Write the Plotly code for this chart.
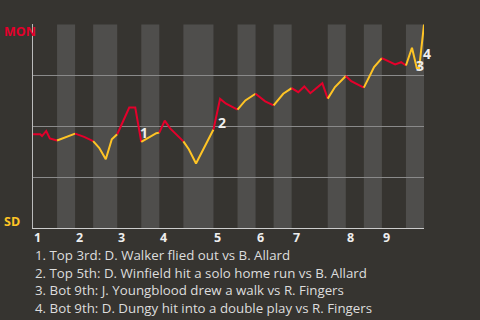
import plotly.graph_objects as go

# Game progress (plate-appearance units) and MON win probability
x_vals = [0, 1.2, 1.5, 2.2, 2.8, 4,
          5.7, 7,
          8.5, 10,
          11, 12.1, 13.1, 14,
          16, 17, 18,
          19.5, 20.5, 21,
          21.9, 22.8, 23.8, 25,
          25.9, 27.1, 30,
          31.1, 32.1, 34,
          35.3, 37,
          38.6, 40,
          41.6, 43,
          44.1, 45.1, 46.1, 48.1, 49,
          50.2, 52,
          52.9, 55,
          56.7, 58,
          60.2, 61.2, 62,
          63.0, 63.8, 64.2, 65]
win_prob = [0.461, 0.461, 0.452, 0.477, 0.440, 0.430,
            0.450, 0.464,
            0.448, 0.427,
            0.394, 0.338, 0.436, 0.461,
            0.592, 0.592, 0.423,
            0.450, 0.466, 0.469,
            0.528, 0.490, 0.459, 0.426,
            0.387, 0.317, 0.484,
            0.635, 0.611, 0.582,
            0.627, 0.660,
            0.623, 0.603,
            0.660, 0.688,
            0.668, 0.696, 0.663, 0.712, 0.636,
            0.693, 0.747,
            0.722, 0.690,
            0.791, 0.835,
            0.804, 0.815, 0.799,
            0.886, 0.787, 0.787, 1.0]

# Half-inning boundaries (top, bottom alternating)
half_bounds = [0, 4, 7, 10, 14, 18, 21, 25, 30, 34, 37, 40, 43, 49, 52, 55, 58, 62, 65]
inning_labels = ["1", "2", "3", "4", "5", "6", "7", "8", "9"]

events_x = [18.45, 31.4, 64.3, 65.5]
events_y = [0.471, 0.520, 0.799, 0.858]
events_lbl = ["1", "2", "3", "4"]
event_texts = [
    "1. Top 3rd: D. Walker flied out vs B. Allard",
    "2. Top 5th: D. Winfield hit a solo home run vs B. Allard",
    "3. Bot 9th: J. Youngblood drew a walk vs R. Fingers",
    "4. Bot 9th: D. Dungy hit into a double play vs R. Fingers",
]

RED = "#e4002b"
YELLOW = "#ffc425"
BG = "#363430"
STRIPE = "#4f4e4c"
FONT = "Open Sans"

X_MAX = half_bounds[-1]

fig = go.Figure()

shapes = []
for i in range(len(half_bounds) - 1):
    a, b = half_bounds[i], half_bounds[i + 1]
    xs = [x for x in x_vals if a <= x <= b]
    ys = [y for x, y in zip(x_vals, win_prob) if a <= x <= b]
    color = RED if i % 2 == 0 else YELLOW
    fig.add_trace(go.Scatter(x=xs, y=ys, mode="lines",
                             line=dict(color=color, width=2),
                             hoverinfo="skip", showlegend=False, cliponaxis=False))
    if i % 2 == 1:
        shapes.append(dict(type="rect", xref="x", yref="y", x0=a, x1=b, y0=0, y1=1,
                           fillcolor=STRIPE, line=dict(width=0), layer="below"))

annotations = []
for lbl, xv, yv in zip(events_lbl, events_x, events_y):
    annotations.append(dict(x=xv / X_MAX, y=yv, xref="paper", yref="y", text="<b>%s</b>" % lbl,
                            showarrow=False, font=dict(family=FONT, size=14, color="#eeeeee"),
                            xanchor="center", yanchor="middle"))

for k, lbl in enumerate(inning_labels):
    annotations.append(dict(x=half_bounds[2 * k], y=-(9.5 / 204), xref="x", yref="paper",
                            text="<b>%s</b>" % lbl, showarrow=False,
                            font=dict(family=FONT, size=12.5, color="#eeeeee"),
                            xanchor="left", yanchor="middle", xshift=-1))

for j, t in enumerate(event_texts):
    annotations.append(dict(x=0, y=-(27 + 17.6 * j) / 204, xref="paper", yref="paper",
                            text=t, showarrow=False,
                            font=dict(family=FONT, size=13.3, color="#dddddd"),
                            xanchor="left", yanchor="middle"))

annotations.append(dict(x=-31 / 391, y=(228 - 31) / 204, xref="paper", yref="paper",
                        text="<b>MON</b>", showarrow=False,
                        font=dict(family=FONT, size=12.5, color=RED),
                        xanchor="left", yanchor="middle"))
annotations.append(dict(x=-31 / 391, y=(228 - 221) / 204, xref="paper", yref="paper",
                        text="<b>SD</b>", showarrow=False,
                        font=dict(family=FONT, size=12.5, color=YELLOW),
                        xanchor="left", yanchor="middle"))

fig.update_layout(
    width=480, height=320,
    margin=dict(l=33, r=56, t=24, b=92),
    paper_bgcolor=BG, plot_bgcolor=BG,
    shapes=shapes, annotations=annotations,
    xaxis=dict(range=[0, X_MAX], showgrid=False, zeroline=False, showticklabels=False,
               showline=True, linecolor="#cccccc", linewidth=1, ticks=""),
    yaxis=dict(range=[0, 1.003], tickvals=[0.25, 0.5, 0.75, 1.0], showticklabels=False,
               gridcolor="#8a8a8a", gridwidth=1, zeroline=False,
               showline=True, linecolor="#bbbbbb", linewidth=1, ticks=""),
)

fig.write_html("out.html")
